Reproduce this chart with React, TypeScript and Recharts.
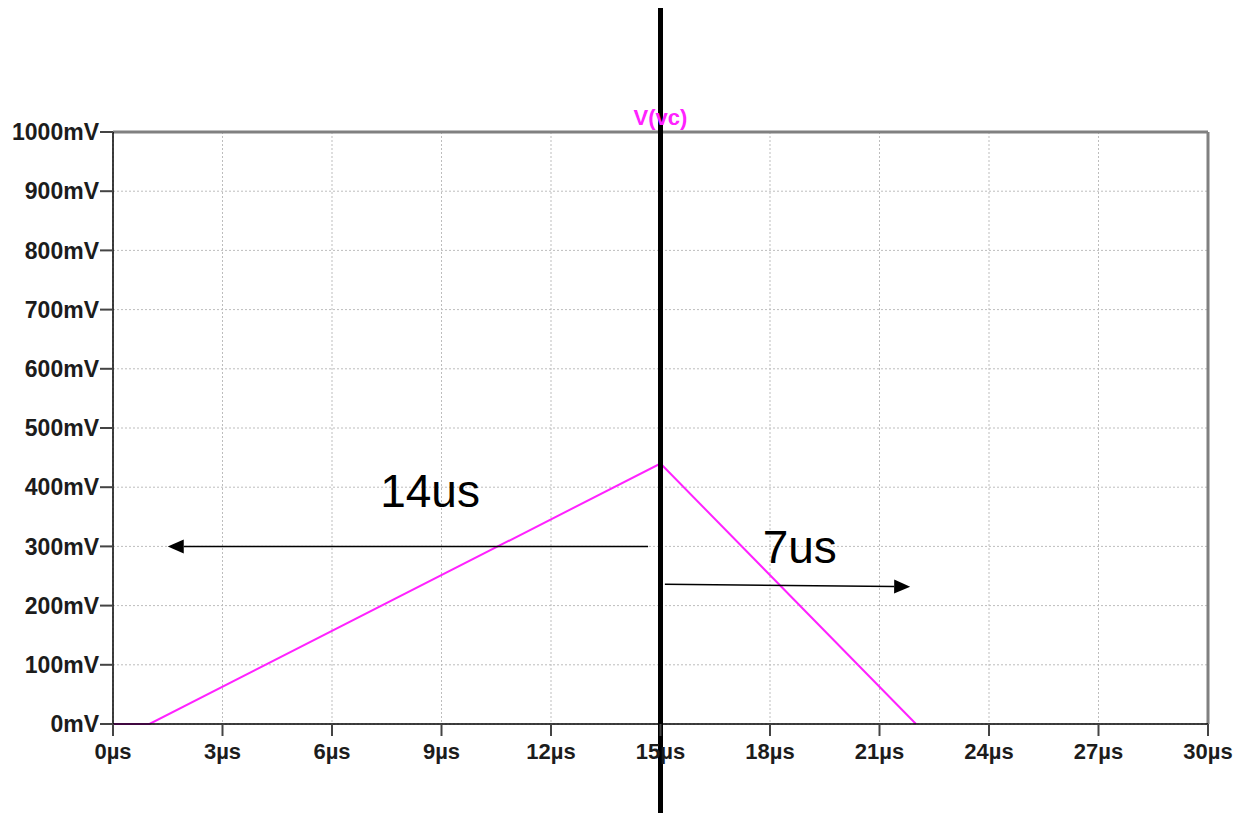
import React from 'react';
import { LineChart, Line, XAxis, YAxis, CartesianGrid, ReferenceLine, ReferenceDot } from 'recharts';

// V(vc) waveform
const timeUs = [0, 1, 15, 22];
const vcMilliVolts = [0, 0, 440, 0];

const xTicks = [0, 3, 6, 9, 12, 15, 18, 21, 24, 27, 30];
const yTicks = [0, 100, 200, 300, 400, 500, 600, 700, 800, 900, 1000];

const data = timeUs.map((t, i) => ({ t, vc: vcMilliVolts[i] }));

const FONT = '"Liberation Sans", Arial, sans-serif';
const MAGENTA = '#ff22ff';

// thin black arrow with a filled head at (x2, y2)
const arrowShape = (p: any) => {
  const { x1, y1, x2, y2 } = p;
  const a = Math.atan2(y2 - y1, x2 - x1);
  const len = 16;
  const half = 7;
  const bx = x2 - len * Math.cos(a);
  const by = y2 - len * Math.sin(a);
  const pts = [
    `${x2},${y2}`,
    `${bx + half * Math.sin(a)},${by - half * Math.cos(a)}`,
    `${bx - half * Math.sin(a)},${by + half * Math.cos(a)}`,
  ].join(' ');
  return (
    <g>
      <line x1={x1} y1={y1} x2={bx} y2={by} stroke="#000" strokeWidth={1.5} />
      <polygon points={pts} fill="#000" />
    </g>
  );
};

const textShape = (label: string, size: number, color: string, anchor: string, weight: string) => (p: any) => (
  <text x={p.cx} y={p.cy} fontSize={size} fill={color} textAnchor={anchor} fontFamily={FONT} fontWeight={weight}>
    {label}
  </text>
);

// the cursor runs past the plot area, almost the whole window height
const cursorShape = (p: any) => (
  <line
    x1={p.x1}
    x2={p.x2}
    y1={Math.min(p.y1, p.y2) - 124}
    y2={Math.max(p.y1, p.y2) + 92}
    stroke="#000"
    strokeWidth={5}
  />
);

export default function App() {
  return (
    <div style={{ position: 'absolute', left: 0, top: 0, width: 1236, height: 813, background: '#fff' }}>
      <LineChart width={1236} height={813} data={data} margin={{ top: 132, right: 28, bottom: 29, left: 13 }}>
        <CartesianGrid stroke="#bdbdbd" strokeDasharray="2 2" strokeWidth={1} />
        <XAxis
          dataKey="t"
          type="number"
          domain={[0, 30]}
          ticks={xTicks}
          tickFormatter={(v: number) => `${v}µs`}
          height={60}
          tickSize={12}
          tickMargin={7}
          axisLine={{ stroke: '#000', strokeWidth: 1.5 }}
          tickLine={{ stroke: '#444', strokeWidth: 2 }}
          tick={{ fontSize: 22, fontWeight: 'bold', fill: '#1c1c1c', fontFamily: FONT }}
          interval={0}
        />
        <YAxis
          type="number"
          domain={[0, 1000]}
          ticks={yTicks}
          tickFormatter={(v: number) => `${v}mV`}
          width={100}
          tickSize={13}
          tickMargin={1}
          axisLine={{ stroke: '#000', strokeWidth: 1.5 }}
          tickLine={{ stroke: '#444', strokeWidth: 2 }}
          tick={{ fontSize: 23, fontWeight: 'bold', fill: '#1c1c1c', fontFamily: FONT }}
          interval={0}
        />
        {/* plot frame, top and right */}
        <ReferenceLine y={1000} stroke="#808080" strokeWidth={3} />
        <ReferenceLine x={30} stroke="#808080" strokeWidth={3} />

        <Line
          type="linear"
          dataKey="vc"
          stroke={MAGENTA}
          strokeWidth={2}
          dot={false}
          isAnimationActive={false}
        />

        {/* cursor at 15µs */}
        <ReferenceLine x={15} shape={cursorShape} />

        {/* annotations */}
        <ReferenceLine segment={[{ x: 14.66, y: 300 }, { x: 1.5, y: 300 }]} shape={arrowShape} />
        <ReferenceLine segment={[{ x: 15.12, y: 236 }, { x: 21.84, y: 232 }]} shape={arrowShape} />
        <ReferenceDot x={7.32} y={366} r={0} shape={textShape('14us', 46, '#000', 'start', 'normal')} />
        <ReferenceDot x={17.8} y={272} r={0} shape={textShape('7us', 46, '#000', 'start', 'normal')} />
        <ReferenceDot x={15} y={1000} r={0} shape={(p: any) => textShape('V(vc)', 22, MAGENTA, 'middle', 'bold')({ ...p, cy: p.cy - 7 })} />
      </LineChart>
    </div>
  );
}
